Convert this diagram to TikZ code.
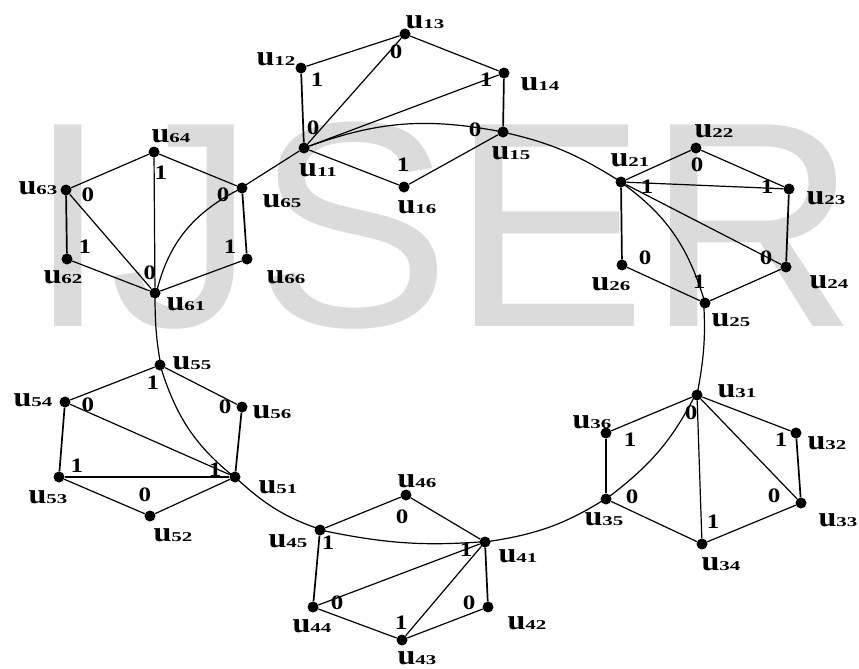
\documentclass[tikz,border=0pt]{standalone}
\usepackage{fontspec}
\setmainfont{Liberation Serif}
\newfontfamily\wmfont{Liberation Sans}
\usepackage{graphicx}
\newcommand{\ulab}[1]{u\scalebox{1.35}[1]{\fontsize{13.5}{13.5}\selectfont\bfseries #1}}
\tikzset{
  dot/.style={circle, fill=black, inner sep=0pt, minimum size=11pt},
  lab/.style={inner sep=0pt, font=\fontsize{28}{28}\selectfont\bfseries, xscale=1.15},
  bit/.style={inner sep=0pt, font=\fontsize{20.5}{20.5}\selectfont\bfseries, xscale=1.22},
  edge/.style={line width=1.2pt, black},
  vedge/.style={line width=1.7pt, black}
}
\begin{document}
\begin{tikzpicture}[x=1pt,y=-1pt]
\useasboundingbox (0,0) rectangle (859,669);
\node[anchor=base west, inner sep=0pt, text=black!14, font=\fontsize{293}{293}\selectfont\wmfont] (wm) at (27.7,326) {IJSER};
% dots
\foreach \n/\x/\y in {
 11/304/148, 12/301/68, 13/405/34, 14/504/73, 15/503/132, 16/404/187,
 21/621/182, 22/696/148, 23/789/189, 24/786/267, 25/705/303, 26/622/265,
 31/697/395, 32/796/433, 33/801/503, 34/702/544, 35/606/499, 36/606/433,
 41/485/542, 42/488/607, 43/402/640, 44/313/607, 45/320/530, 46/406/495,
 51/235/477, 52/150/516, 53/59/477, 54/65/402, 55/160/365, 56/242/407,
 61/155/293, 62/67/259, 63/66/190, 64/154/152, 65/242/188, 66/247/259}
 { \node[dot] (u\n) at (\x,\y) {}; }
% big cycle
\draw[edge] (u11) to[bend left=15] (u15) to[bend left=10] (u21) to[bend left=19] (u25)
  to[bend left=7] (u31) to[bend left=13] (u35) to[bend left=12] (u41) to[bend left=8] (u45)
  to[bend left=12] (u51) to[bend left=17] (u55) to[bend left=5] (u61) to[bend left=25] (u65)
  -- (u11);
% hexagons
\foreach \i in {1,...,6} {
  \draw[edge] (u\i1) -- (u\i3);
  \draw[edge] (u\i1) -- (u\i4);
}
\draw[vedge] (u11) -- (u12); \draw[edge] (u12) -- (u13); \draw[edge] (u13) -- (u14); \draw[vedge] (u14) -- (u15); \draw[edge] (u15) -- (u16); \draw[edge] (u16) -- (u11);
\draw[edge] (u21) -- (u22); \draw[edge] (u22) -- (u23); \draw[vedge] (u23) -- (u24); \draw[edge] (u24) -- (u25); \draw[edge] (u25) -- (u26); \draw[vedge] (u26) -- (u21);
\draw[edge] (u31) -- (u32); \draw[vedge] (u32) -- (u33); \draw[edge] (u33) -- (u34); \draw[edge] (u34) -- (u35); \draw[vedge] (u35) -- (u36); \draw[edge] (u36) -- (u31);
\draw[vedge] (u41) -- (u42); \draw[edge] (u42) -- (u43); \draw[edge] (u43) -- (u44); \draw[vedge] (u44) -- (u45); \draw[edge] (u45) -- (u46); \draw[edge] (u46) -- (u41);
\draw[edge] (u51) -- (u52); \draw[edge] (u52) -- (u53); \draw[vedge] (u53) -- (u54); \draw[edge] (u54) -- (u55); \draw[edge] (u55) -- (u56); \draw[vedge] (u56) -- (u51);
\draw[edge] (u61) -- (u62); \draw[vedge] (u62) -- (u63); \draw[edge] (u63) -- (u64); \draw[edge] (u64) -- (u65); \draw[vedge] (u65) -- (u66); \draw[edge] (u66) -- (u61);
% vertex labels
\foreach \n/\x/\y in {
 11/318/170, 12/276/59, 13/425/22, 14/540/84, 15/511/153, 16/417/207,
 21/630/160, 22/714/131, 23/826/198, 24/829/282, 25/731/320, 26/611/284,
 31/737/391, 32/827/443, 33/838/520, 34/721/564, 35/604/519, 36/592/422,
 41/518/556, 42/527/623, 43/417/658, 44/312/626, 45/288/541, 46/417/481,
 51/278/487, 52/173/535, 53/48/497, 54/33/400, 55/192/363, 56/272/412,
 61/186/304, 62/63/277, 63/38/188, 64/171/136, 65/282/201, 66/286/277}
 { \node[lab] (l\n) at (\x,\y) {\ulab{\n}}; }
% bit labels
\foreach \k/\x/\y/\b in {
 a1/317/80/1, a2/396/52/0, a3/486/80/1, a4/475/130/0, a5/403/165/1, a6/313/128/0,
 b1/697/165/0, b2/647/187/1, b3/767/187/1, b4/766/258/0, b5/645/258/0, b6/699/282/1,
 c1/691/413/0, c2/781/440/1, c3/774/496/0, c4/713/522/1, c5/632/497/0, c6/630/440/1,
 d1/402/517/0, d2/328/543/1, d3/466/550/1, d4/469/603/0, d5/401/623/1, d6/337/603/0,
 e1/153/383/1, e2/88/405/0, e3/225/407/0, e4/77/466/1, e5/145/495/0, e6/215/470/1,
 f1/88/195/0, f2/161/173/1, f3/223/195/0, f4/85/247/1, f5/230/247/1, f6/150/273/0}
 { \node[bit] (\k) at (\x,\y) {\b}; }
\end{tikzpicture}
\end{document}
